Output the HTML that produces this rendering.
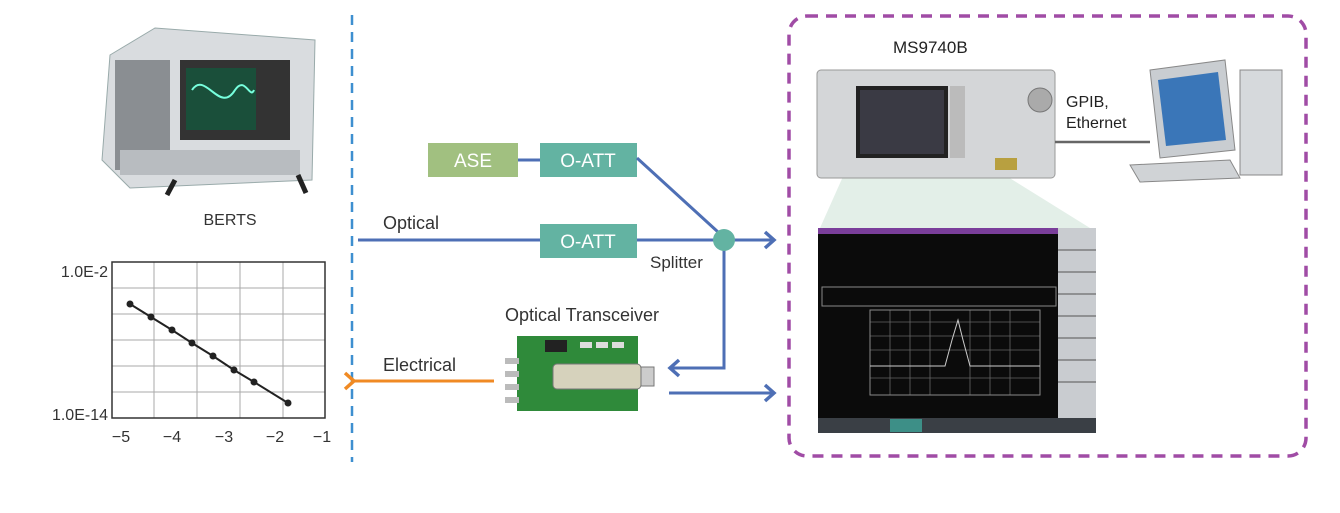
<!DOCTYPE html>
<html><head><style>
html,body{margin:0;padding:0;background:#fff;width:1340px;height:513px;overflow:hidden}
svg{display:block}
text{font-family:"Liberation Sans",sans-serif}
</style></head><body>
<svg width="1340" height="513" viewBox="0 0 1340 513" xmlns="http://www.w3.org/2000/svg">
<defs>
<marker id="a" markerWidth="14" markerHeight="20" refX="11" refY="10" orient="auto" markerUnits="userSpaceOnUse">
<path d="M2,2 L11,10 L2,18" fill="none" stroke="#4e6fb5" stroke-width="3.5"/></marker>
<marker id="o" markerWidth="14" markerHeight="20" refX="3" refY="10" orient="auto" markerUnits="userSpaceOnUse">
<path d="M12,2 L3,10 L12,18" fill="none" stroke="#f08a24" stroke-width="3.5"/></marker>
</defs>
<!-- BERTS instrument -->
<g>
<polygon points="110,55 155,28 315,40 312,180 130,188 102,160" fill="#d9dcdf" stroke="#9aa" />
<rect x="180" y="60" width="110" height="80" fill="#333"/>
<rect x="186" y="68" width="70" height="62" fill="#1a4f3a"/>
<path d="M192,90 C205,70 220,115 235,90 C245,75 250,100 254,90" stroke="#7fd" fill="none" stroke-width="2"/>
<rect x="115" y="60" width="55" height="110" fill="#8a8e92"/>
<rect x="120" y="150" width="180" height="25" fill="#b8bcc0"/>
<path d="M175,180 l-8,15 M298,175 l8,18" stroke="#222" stroke-width="5"/>
</g>
<text x="230" y="225" font-size="16" fill="#333" text-anchor="middle">BERTS</text>
<line x1="352" y1="15" x2="352" y2="462" stroke="#3e8fd0" stroke-width="2.5" stroke-dasharray="10,7"/>
<!-- chart -->
<g stroke="#aaa" stroke-width="1">
<line x1="154" y1="262" x2="154" y2="418"/><line x1="197" y1="262" x2="197" y2="418"/>
<line x1="240" y1="262" x2="240" y2="418"/><line x1="283" y1="262" x2="283" y2="418"/>
<line x1="112" y1="288" x2="325" y2="288"/><line x1="112" y1="314" x2="325" y2="314"/>
<line x1="112" y1="340" x2="325" y2="340"/><line x1="112" y1="366" x2="325" y2="366"/>
<line x1="112" y1="392" x2="325" y2="392"/>
</g>
<rect x="112" y="262" width="213" height="156" fill="none" stroke="#333" stroke-width="1.5"/>
<polyline points="130,304 151,317 172,330 192,343 213,356 234,370 254,382 288,403" fill="none" stroke="#222" stroke-width="2"/>
<g fill="#222"><circle cx="130" cy="304" r="3.5"/><circle cx="151" cy="317" r="3.5"/><circle cx="172" cy="330" r="3.5"/><circle cx="192" cy="343" r="3.5"/><circle cx="213" cy="356" r="3.5"/><circle cx="234" cy="370" r="3.5"/><circle cx="254" cy="382" r="3.5"/><circle cx="288" cy="403" r="3.5"/></g>
<text x="108" y="277" font-size="16" fill="#333" text-anchor="end">1.0E-2</text>
<text x="108" y="420" font-size="16" fill="#333" text-anchor="end">1.0E-14</text>
<g font-size="16" fill="#333" text-anchor="middle">
<text x="121" y="442">−5</text><text x="172" y="442">−4</text><text x="224" y="442">−3</text><text x="275" y="442">−2</text><text x="322" y="442">−1</text></g>
<!-- middle -->
<rect x="428" y="143" width="90" height="34" fill="#a1c080"/>
<text x="473" y="167" font-size="19" fill="#fff" text-anchor="middle">ASE</text>
<line x1="518" y1="160" x2="540" y2="160" stroke="#4e6fb5" stroke-width="3"/>
<rect x="540" y="143" width="97" height="34" fill="#63b3a2"/>
<text x="588" y="167" font-size="19" fill="#fff" text-anchor="middle">O-ATT</text>
<line x1="637" y1="158" x2="718" y2="232" stroke="#4e6fb5" stroke-width="3"/>
<line x1="358" y1="240" x2="540" y2="240" stroke="#4e6fb5" stroke-width="3"/>
<text x="383" y="229" font-size="18" fill="#333">Optical</text>
<rect x="540" y="224" width="97" height="34" fill="#63b3a2"/>
<text x="588" y="248" font-size="19" fill="#fff" text-anchor="middle">O-ATT</text>
<line x1="637" y1="240" x2="774" y2="240" stroke="#4e6fb5" stroke-width="3" marker-end="url(#a)"/>
<polyline points="724,240 724,368 670,368" fill="none" stroke="#4e6fb5" stroke-width="3" marker-end="url(#a)"/>
<circle cx="724" cy="240" r="11" fill="#63b3a2"/>
<text x="650" y="268" font-size="17" fill="#333">Splitter</text>
<line x1="669" y1="393" x2="774" y2="393" stroke="#4e6fb5" stroke-width="3" marker-end="url(#a)"/>
<text x="582" y="321" font-size="18" fill="#333" text-anchor="middle">Optical Transceiver</text>
<line x1="494" y1="381" x2="354" y2="381" stroke="#f08a24" stroke-width="3" marker-end="url(#o)"/>
<text x="383" y="371" font-size="18" fill="#333">Electrical</text>
<!-- transceiver -->
<rect x="517" y="336" width="121" height="75" fill="#2f8a3a"/>
<rect x="553" y="364" width="88" height="25" rx="4" fill="#d6d2bc" stroke="#777"/>
<rect x="641" y="367" width="13" height="19" fill="#ccc" stroke="#777"/>
<g fill="#bbb"><rect x="505" y="358" width="14" height="6"/><rect x="505" y="371" width="14" height="6"/><rect x="505" y="384" width="14" height="6"/><rect x="505" y="397" width="14" height="6"/></g>
<rect x="545" y="340" width="22" height="12" fill="#222"/>
<g fill="#ddd"><rect x="580" y="342" width="12" height="6"/><rect x="596" y="342" width="12" height="6"/><rect x="612" y="342" width="12" height="6"/></g>
<!-- purple dashed box -->
<rect x="789" y="16" width="517" height="440" rx="18" fill="none" stroke="#a04ca5" stroke-width="3.5" stroke-dasharray="11,8"/>
<text x="893" y="53" font-size="17" fill="#222">MS9740B</text>
<polygon points="845,172 1000,172 1090,228 820,228" fill="#e3efe8"/>
<rect x="817" y="70" width="238" height="108" rx="4" fill="#d4d6d8" stroke="#999"/>
<rect x="856" y="86" width="92" height="72" fill="#222"/>
<rect x="860" y="90" width="84" height="64" fill="#3a3a44"/>
<rect x="950" y="86" width="15" height="72" fill="#bbb"/>
<circle cx="1040" cy="100" r="12" fill="#aaa" stroke="#777"/>
<rect x="995" y="158" width="22" height="12" fill="#b8a040"/>
<line x1="1055" y1="142" x2="1150" y2="142" stroke="#666" stroke-width="2.5"/>
<text x="1066" y="107" font-size="16" fill="#222">GPIB,</text>
<text x="1066" y="128" font-size="16" fill="#222">Ethernet</text>
<polygon points="1150,70 1225,60 1235,150 1160,158" fill="#c9cdd1" stroke="#888"/>
<polygon points="1158,80 1218,72 1226,140 1166,146" fill="#3a76b8"/>
<rect x="1240" y="70" width="42" height="105" fill="#d6d9dc" stroke="#888"/>
<polygon points="1130,165 1230,160 1240,178 1140,182" fill="#d0d3d6" stroke="#888"/>
<!-- screen -->
<rect x="818" y="228" width="278" height="205" fill="#0b0b0b"/>
<rect x="818" y="228" width="240" height="6" fill="#7a3e9a"/>
<rect x="1058" y="228" width="38" height="190" fill="#c9ccd0"/>
<g stroke="#555" stroke-width="1">
<line x1="1058" y1="250" x2="1096" y2="250"/><line x1="1058" y1="272" x2="1096" y2="272"/><line x1="1058" y1="294" x2="1096" y2="294"/><line x1="1058" y1="316" x2="1096" y2="316"/><line x1="1058" y1="338" x2="1096" y2="338"/><line x1="1058" y1="360" x2="1096" y2="360"/><line x1="1058" y1="382" x2="1096" y2="382"/>
<rect x="822" y="287" width="234" height="19" fill="none" stroke="#888"/>
</g>
<g stroke="#666" stroke-width="0.8">
<line x1="870" y1="322" x2="1040" y2="322"/><line x1="870" y1="336" x2="1040" y2="336"/><line x1="870" y1="350" x2="1040" y2="350"/><line x1="870" y1="378" x2="1040" y2="378"/>
<line x1="890" y1="310" x2="890" y2="395"/><line x1="910" y1="310" x2="910" y2="395"/><line x1="930" y1="310" x2="930" y2="395"/><line x1="970" y1="310" x2="970" y2="395"/><line x1="990" y1="310" x2="990" y2="395"/><line x1="1010" y1="310" x2="1010" y2="395"/>
</g>
<rect x="870" y="310" width="170" height="85" fill="none" stroke="#888"/>
<path d="M870,366 L945,366 L952,340 L958,320 L963,340 L970,366 L1040,366" stroke="#ccc" fill="none"/>
<rect x="818" y="418" width="278" height="15" fill="#3a3f45"/>
<rect x="890" y="419" width="32" height="13" fill="#3d8f87"/>
</svg>
</body></html>
